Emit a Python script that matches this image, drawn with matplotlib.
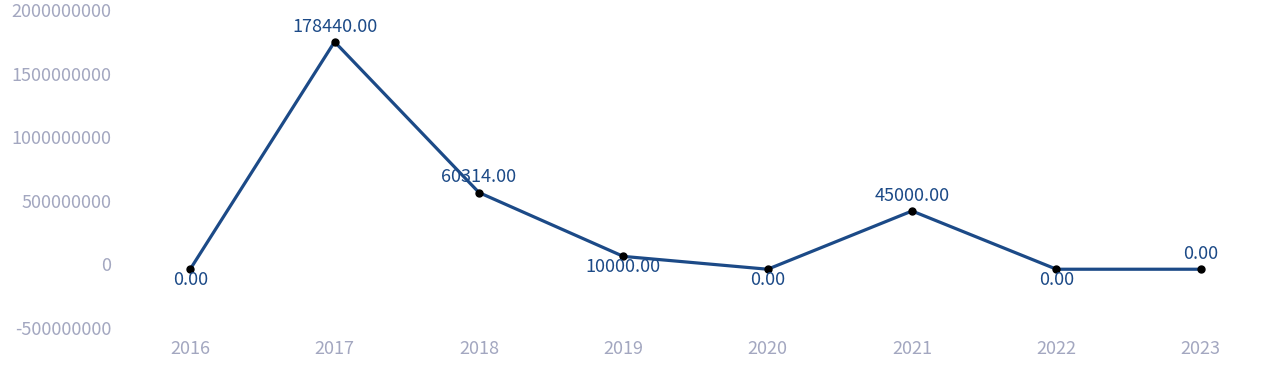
import matplotlib
matplotlib.use('Agg')
import matplotlib.pyplot as plt
import numpy as np

plt.rcParams['font.family'] = ['Noto Sans CJK SC', 'DejaVu Sans']

years = ['2016', '2017', '2018', '2019', '2020', '2021', '2022', '2023']
values = [-38000000, 1750000000, 565000000, 63000000, -38000000, 420000000, -38000000, -38000000]
labels = ['0.00', '178440.00', '60314.00', '10000.00', '0.00', '45000.00', '0.00', '0.00']
label_above = [False, True, True, False, False, True, False, True]

yticks = [-500000000, 0, 500000000, 1000000000, 1500000000, 2000000000]

line_color = '#1c4a87'
tick_color = '#a3a7c0'

fig = plt.figure(figsize=(12.8, 3.82), dpi=100)
ax = fig.add_axes([118 / 1280, 1 - 328 / 382, (1273 - 118) / 1280, (328 - 10) / 382])

x = np.arange(len(years))
ax.plot(x, values, color=line_color, linewidth=2.3, zorder=2)
ax.scatter(x, values, color='black', s=25, zorder=3)

for xi, v, lab, up in zip(x, values, labels, label_above):
    if up:
        ax.annotate(lab, (xi, v), xytext=(0, 4.5), textcoords='offset points',
                    ha='center', va='bottom', fontsize=13, color=line_color)
    else:
        ax.annotate(lab, (xi, v), xytext=(0, -1), textcoords='offset points',
                    ha='center', va='top', fontsize=13, color=line_color)

ax.set_xlim(-0.5, len(years) - 0.5)
ax.set_ylim(-500000000, 2000000000)
ax.set_xticks(x)
ax.set_xticklabels(years)
ax.set_yticks(yticks)
ax.set_yticklabels([str(t) for t in yticks])
ax.tick_params(axis='both', length=0, labelsize=13, labelcolor=tick_color)
ax.tick_params(axis='x', pad=9)
ax.tick_params(axis='y', pad=5)
for s in ax.spines.values():
    s.set_visible(False)

fig.savefig('out.png', dpi=100)
